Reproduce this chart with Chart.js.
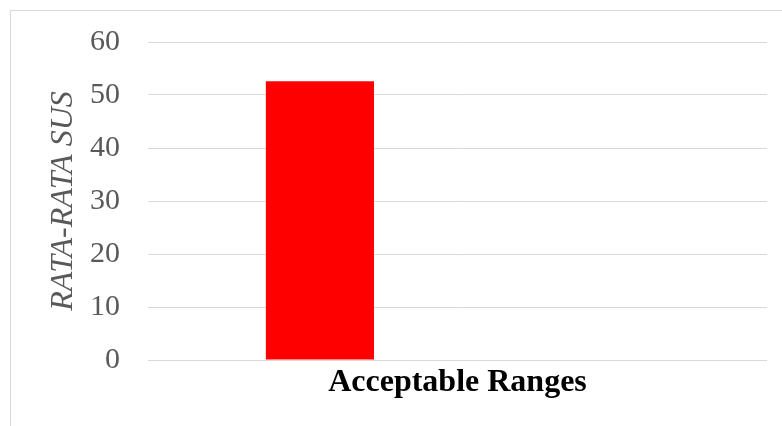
<!DOCTYPE html>
<html>
<head>
<meta charset="utf-8">
<script src="https://cdn.jsdelivr.net/npm/chart.js@4"></script>
<style>
  html, body { margin: 0; padding: 0; background: #fff; overflow: hidden; }
  #wrap { position: relative; width: 782px; height: 426px; }
  #frame { position: absolute; left: 10px; top: 10px; width: 800px; height: 450px; border: 1px solid #d9d9d9; }
  canvas { position: absolute; left: 0; top: 0; }
</style>
</head>
<body>
<div id="wrap">
  <div id="frame"></div>
  <canvas id="myChart" width="782" height="426"></canvas>
</div>
<script>
const categories = ['Acceptable Ranges'];
const susValues = [52.6];
const emptySeries = [null]; // second (empty) series in the original, keeps the bar to the left
const yTicks = [0, 10, 20, 30, 40, 50, 60];
const yTitle = 'RATA-RATA SUS';

const serif = '"Liberation Serif", "Times New Roman", serif';

const ctx = document.getElementById('myChart').getContext('2d');
new Chart(ctx, {
  type: 'bar',
  data: {
    labels: categories,
    datasets: [
      {
        label: yTitle,
        data: susValues,
        backgroundColor: '#ff0000',
        borderWidth: 0,
        categoryPercentage: 0.889,
        barPercentage: 0.393
      },
      {
        label: '',
        data: emptySeries,
        backgroundColor: 'rgba(0,0,0,0)',
        categoryPercentage: 0.889,
        barPercentage: 0.393
      }
    ]
  },
  options: {
    responsive: false,
    animation: false,
    layout: { padding: { top: 42, right: 15, bottom: 0, left: 0 } },
    plugins: { legend: { display: false }, tooltip: { enabled: false } },
    scales: {
      x: {
        grid: { display: false, drawTicks: false },
        border: { display: false },
        ticks: { color: '#000', padding: 4, font: { family: serif, size: 32, weight: 'bold' } },
        afterFit: (s) => { s.height = 66; s.paddingLeft = 0; s.paddingRight = 0; }
      },
      y: {
        min: 0,
        max: 60,
        afterBuildTicks: (s) => { s.ticks = yTicks.map(v => ({ value: v })); },
        grid: { color: '#d9d9d9', lineWidth: 1, drawTicks: false },
        border: { display: false },
        ticks: { color: '#595959', padding: 28, font: { family: serif, size: 30 } },
        title: {
          display: true,
          text: yTitle,
          color: '#595959',
          padding: { top: 44, bottom: 0 },
          font: { family: serif, size: 32, style: 'italic' }
        },
        afterFit: (s) => { s.width = 148; s.paddingTop = 0; s.paddingBottom = 0; }
      }
    }
  }
});
</script>
</body>
</html>
